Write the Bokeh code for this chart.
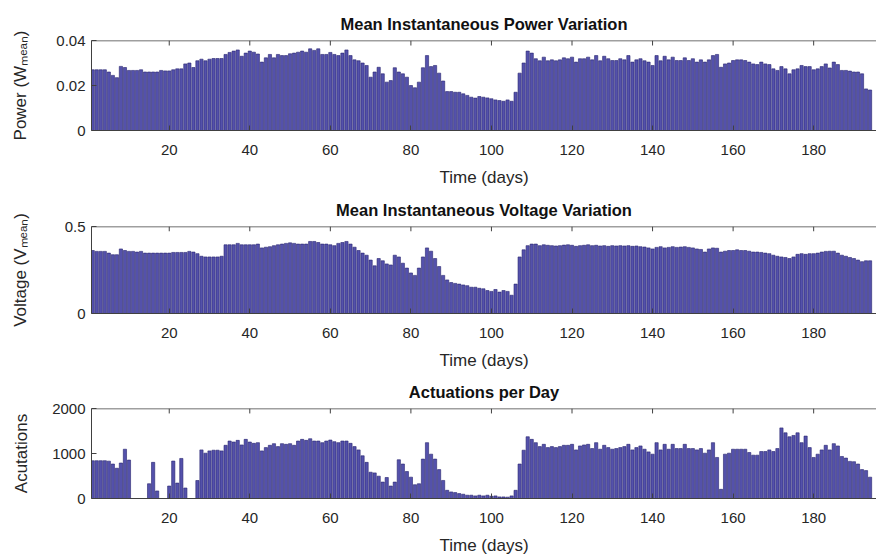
from bokeh.plotting import figure
from bokeh.layouts import column
from bokeh.models import Range1d, FixedTicker, Span
from bokeh.embed import file_html
from bokeh.resources import INLINE

days = list(range(1, 195))

power = [
    0.027, 0.027, 0.027, 0.027, 0.026, 0.0245, 0.0235, 0.0285, 0.028, 0.0267,
    0.0267, 0.0267, 0.027, 0.026, 0.026, 0.026, 0.026, 0.0267, 0.0265, 0.0265,
    0.027, 0.0274, 0.0274, 0.0296, 0.030, 0.028, 0.031, 0.0317, 0.031, 0.0317,
    0.032, 0.032, 0.032, 0.0338, 0.0347, 0.0353, 0.0358, 0.033, 0.0344, 0.0353,
    0.0348, 0.034, 0.0304, 0.0323, 0.0338, 0.0323, 0.0338, 0.0333, 0.0333, 0.0341,
    0.0344, 0.0348, 0.0353, 0.0348, 0.0363, 0.0356, 0.0363, 0.0338, 0.0338, 0.0347,
    0.0338, 0.0333, 0.0344, 0.0358, 0.0333, 0.0314, 0.031, 0.030, 0.0289, 0.0237,
    0.026, 0.0281, 0.0252, 0.0215, 0.0222, 0.0279, 0.026, 0.0252, 0.0237, 0.020,
    0.019, 0.0215, 0.0279, 0.0333, 0.0284, 0.0289, 0.0255, 0.022, 0.0173, 0.0173,
    0.017, 0.017, 0.0163, 0.0156, 0.0148, 0.0144, 0.0151, 0.0148, 0.0145, 0.0141,
    0.0136, 0.0133, 0.013, 0.0136, 0.013, 0.017, 0.0255, 0.030, 0.0353, 0.0344,
    0.0319, 0.031, 0.0326, 0.031, 0.0314, 0.031, 0.0314, 0.0323, 0.0319, 0.0326,
    0.0304, 0.0319, 0.0319, 0.0326, 0.0314, 0.0333, 0.031, 0.033, 0.0319, 0.0311,
    0.0311, 0.0319, 0.0314, 0.0333, 0.0304, 0.0314, 0.0319, 0.031, 0.0304, 0.0289,
    0.0333, 0.031, 0.033, 0.0314, 0.0326, 0.0311, 0.0311, 0.0323, 0.0311, 0.0319,
    0.0304, 0.0314, 0.0304, 0.0314, 0.0333, 0.0338, 0.0281, 0.0296, 0.030, 0.0311,
    0.0314, 0.0314, 0.0311, 0.0304, 0.0296, 0.0293, 0.0304, 0.0296, 0.0293, 0.0274,
    0.0267, 0.0284, 0.0274, 0.0252, 0.027, 0.0274, 0.0289, 0.0284, 0.0284, 0.027,
    0.0274, 0.0284, 0.0296, 0.0278, 0.0304, 0.0293, 0.0267, 0.0267, 0.0264, 0.026,
    0.026, 0.0252, 0.0185, 0.018,
]

voltage = [
    0.362, 0.357, 0.357, 0.357, 0.347, 0.338, 0.338, 0.371, 0.362, 0.357,
    0.357, 0.353, 0.357, 0.347, 0.347, 0.347, 0.347, 0.347, 0.347, 0.347,
    0.351, 0.351, 0.351, 0.351, 0.357, 0.353, 0.344, 0.329, 0.325, 0.325,
    0.325, 0.325, 0.329, 0.395, 0.395, 0.395, 0.403, 0.395, 0.395, 0.395,
    0.395, 0.399, 0.377, 0.381, 0.384, 0.390, 0.395, 0.399, 0.403, 0.406,
    0.403, 0.399, 0.399, 0.399, 0.414, 0.414, 0.408, 0.399, 0.399, 0.395,
    0.390, 0.403, 0.408, 0.414, 0.399, 0.381, 0.362, 0.347, 0.335, 0.307,
    0.274, 0.316, 0.303, 0.285, 0.279, 0.335, 0.325, 0.289, 0.261, 0.233,
    0.219, 0.261, 0.325, 0.377, 0.358, 0.316, 0.270, 0.219, 0.193, 0.178,
    0.173, 0.169, 0.164, 0.160, 0.151, 0.151, 0.145, 0.142, 0.132, 0.127,
    0.138, 0.123, 0.132, 0.127, 0.105, 0.169, 0.325, 0.366, 0.390, 0.399,
    0.399, 0.390, 0.395, 0.392, 0.390, 0.388, 0.390, 0.393, 0.395, 0.392,
    0.386, 0.390, 0.392, 0.395, 0.390, 0.392, 0.388, 0.390, 0.386, 0.390,
    0.388, 0.390, 0.388, 0.390, 0.386, 0.388, 0.384, 0.382, 0.377, 0.371,
    0.380, 0.384, 0.377, 0.380, 0.384, 0.380, 0.382, 0.384, 0.380, 0.377,
    0.371, 0.368, 0.353, 0.371, 0.377, 0.375, 0.353, 0.358, 0.362, 0.362,
    0.366, 0.362, 0.362, 0.358, 0.353, 0.353, 0.351, 0.347, 0.344, 0.335,
    0.329, 0.325, 0.322, 0.316, 0.325, 0.340, 0.344, 0.340, 0.344, 0.344,
    0.347, 0.353, 0.357, 0.358, 0.358, 0.347, 0.335, 0.329, 0.322, 0.316,
    0.307, 0.298, 0.303, 0.303,
]

actuations = [
    839, 840, 840, 840, 830, 766, 672, 788, 1095, 854,
    0, 0, 0, 0, 328, 803, 168, 0, 0, 277,
    832, 343, 890, 233, 0, 0, 400, 1080, 1007, 1058,
    1073, 1073, 1058, 1182, 1277, 1255, 1292, 1190, 1314, 1255,
    1226, 1241, 1058, 1131, 1182, 1219, 1153, 1219, 1204, 1219,
    1182, 1277, 1314, 1292, 1328, 1277, 1277, 1241, 1277, 1299,
    1263, 1241, 1277, 1277, 1226, 1153, 1080, 949, 803, 584,
    569, 496, 365, 467, 277, 365, 861, 766, 599, 474,
    306, 328, 876, 1241, 985, 876, 642, 401, 182, 146,
    131, 109, 95, 73, 73, 58, 73, 58, 73, 50,
    58, 36, 36, 30, 58, 182, 766, 1073, 1372, 1314,
    1241, 1153, 1204, 1131, 1153, 1131, 1153, 1182, 1182, 1204,
    1080, 1168, 1190, 1204, 1110, 1241, 1095, 1182, 1131, 1095,
    1110, 1131, 1153, 1204, 1080, 1131, 1168, 1095, 1036, 985,
    1241, 1080, 1204, 1095, 1204, 1110, 1110, 1204, 1110, 1110,
    1080, 1110, 1007, 1080, 1241, 912, 204, 985, 1007, 1095,
    1095, 1095, 1095, 1022, 963, 963, 1044, 1044, 1080, 1044,
    1110, 1569, 1460, 1372, 1401, 1460, 1241, 1387, 1131, 912,
    985, 1080, 1182, 1080, 1219, 1168, 934, 898, 825, 818,
    766, 642, 620, 474,
]

x_ticks = [20, 40, 60, 80, 100, 120, 140, 160, 180]
titles = ["Mean Instantaneous Power Variation",
          "Mean Instantaneous Voltage Variation",
          "Actuations per Day"]
y_labels = ["Power (W\u2098\u2091\u2090\u2099)",
            "Voltage (V\u2098\u2091\u2090\u2099)",
            "Acutations"]
x_label = "Time (days)"
y_tops = [0.04, 0.5, 2000]
y_ticks = [[0, 0.02, 0.04], [0, 0.5], [0, 1000, 2000]]
y_tick_labels = [{0: "0", 0.02: "0.02", 0.04: "0.04"},
                 {0: "0", 0.5: "0.5"},
                 {0: "0", 1000: "1000", 2000: "2000"}]
series = [power, voltage, actuations]

FONT = "Liberation Sans"
TXT = "#262626"
AX = "#404040"
FILL = "#5451ab"
EDGE = "#26246e"

heights = [190, 182, 187]
borders_top = [40, 33, 35]
borders_bottom = [60, 58, 61]
frame_h = [h - t - b for h, t, b in zip(heights, borders_top, borders_bottom)]
ylabel_standoff = [23, 32, 18]
TICK_PX = 5

figs = []
for i in range(3):
    p = figure(width=876, height=heights[i], output_backend="svg",
               toolbar_location=None,
               x_range=Range1d(0.7, 195.6), y_range=Range1d(0, y_tops[i]),
               min_border_left=91, min_border_right=0,
               min_border_top=borders_top[i], min_border_bottom=borders_bottom[i],
               title=titles[i])
    p.vbar(x=days, top=series[i], width=0.8, fill_color=FILL,
           line_color=EDGE, line_width=0.6)
    # top box line and inward ticks (MATLAB box style)
    tick_len = y_tops[i] * TICK_PX / frame_h[i]
    p.segment(x0=x_ticks, x1=x_ticks, y0=[y_tops[i]] * len(x_ticks),
              y1=[y_tops[i] - tick_len] * len(x_ticks), line_color=AX, line_width=1)
    p.add_layout(Span(location=y_tops[i], dimension="width", line_color=AX,
                      line_width=1.5))

    p.title.align = "center"
    p.title.text_font = FONT
    p.title.text_font_size = "16.5px"
    p.title.text_font_style = "bold"
    p.title.text_color = "#111111"
    p.title.standoff = 16
    p.grid.visible = False
    p.outline_line_color = None
    p.background_fill_color = "white"
    p.border_fill_color = "white"

    xa = p.xaxis[0]
    xa.ticker = FixedTicker(ticks=x_ticks)
    xa.axis_label = x_label
    ya = p.yaxis[0]
    ya.ticker = FixedTicker(ticks=y_ticks[i])
    ya.major_label_overrides = y_tick_labels[i]
    ya.axis_label = y_labels[i]
    ya.axis_label_standoff = ylabel_standoff[i]
    for ax in (xa, ya):
        ax.axis_line_color = AX
        ax.major_tick_line_color = AX
        ax.major_tick_in = 5
        ax.major_tick_out = 0
        ax.minor_tick_line_color = None
        ax.major_label_text_font = FONT
        ax.major_label_text_font_size = "15px"
        ax.major_label_text_color = TXT
        ax.axis_label_text_font = FONT
        ax.axis_label_text_font_size = "17px"
        ax.axis_label_text_font_style = "normal"
        ax.axis_label_text_color = TXT
    xa.major_label_standoff = 14
    xa.axis_label_standoff = 10
    ya.major_label_standoff = 6
    figs.append(p)

layout = column(*figs, spacing=0)
open("out.html", "w").write(file_html(layout, INLINE))
